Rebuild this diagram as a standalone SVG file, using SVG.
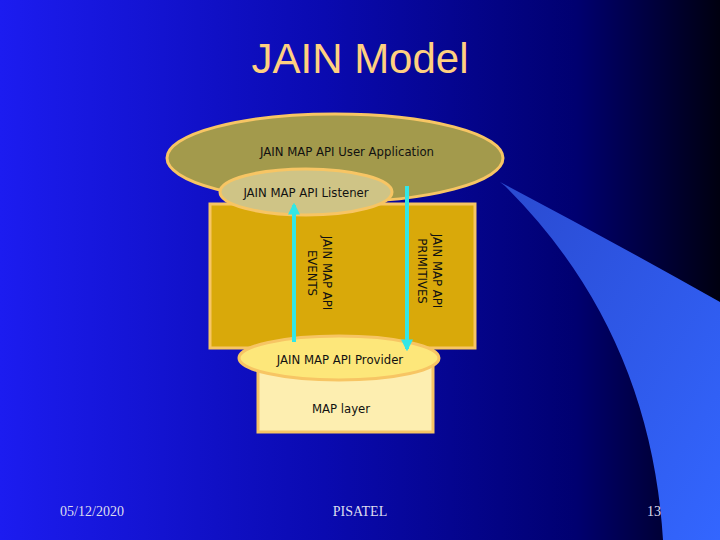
<svg xmlns="http://www.w3.org/2000/svg" width="720" height="540" viewBox="0 0 720 540">
<defs>
<linearGradient id="bg" x1="0" y1="0" x2="1" y2="0">
<stop offset="0" stop-color="#1c1cf0"/><stop offset="0.45" stop-color="#0a0ab0"/><stop offset="0.8" stop-color="#000070"/><stop offset="1" stop-color="#000010"/>
</linearGradient>
<linearGradient id="sw" x1="0" y1="0" x2="1" y2="1">
<stop offset="0" stop-color="#2a4ad0"/><stop offset="1" stop-color="#3366ff"/>
</linearGradient>
<marker id="ah" viewBox="0 0 10 10" refX="8" refY="5" markerWidth="3" markerHeight="3" orient="auto"><path d="M0,0L10,5L0,10z" fill="#33e6e6"/></marker>
<style>
.t{font-family:Tahoma,"DejaVu Sans Condensed","DejaVu Sans",sans-serif;font-size:13px;fill:#111}
.f{font-family:"Liberation Serif",serif;font-size:14px;fill:#dde}
.a{stroke:#33e6e6;stroke-width:4;fill:none;marker-end:url(#ah)}
.o{stroke:#f7c564;stroke-width:3}
</style>
</defs>
<rect width="720" height="540" fill="url(#bg)"/>
<path d="M500,182 Q610,240 720,302 L720,540 L663,540 Q650,330 505,186 Z" fill="url(#sw)"/>
<text x="360" y="73" text-anchor="middle" font-family="Liberation Sans,sans-serif" font-size="42" fill="#ffd080">JAIN Model</text>
<g id="userapp"><ellipse cx="335" cy="158" rx="168" ry="44" fill="#a39a4c" class="o"/><text class="t" x="347" y="156" text-anchor="middle">JAIN MAP API User Application</text></g>
<g id="body"><rect x="210" y="204" width="265" height="144" fill="#d9a90a" class="o"/></g>
<g id="listener"><ellipse cx="306" cy="192" rx="86" ry="23" fill="#cfc486" class="o"/><text class="t" x="306" y="197" text-anchor="middle">JAIN MAP API Listener</text></g>
<g id="maplayer"><rect x="258" y="362" width="175" height="70" fill="#fdeeb0" class="o"/><text class="t" x="341" y="413" text-anchor="middle">MAP layer</text></g>
<g id="provider"><ellipse cx="339" cy="358" rx="100" ry="22" fill="#fde77a" class="o"/><text class="t" x="340" y="364" text-anchor="middle">JAIN MAP API Provider</text></g>
<g id="connectors">
<line class="a" x1="294" y1="342" x2="294" y2="205"/>
<line class="a" x1="407" y1="186" x2="407" y2="349"/>
</g>
<g id="labels">
<text class="t" transform="translate(323,273) rotate(90)" text-anchor="middle">JAIN MAP API<tspan x="0" dy="15">EVENTS</tspan></text>
<text class="t" transform="translate(433,271) rotate(90)" text-anchor="middle">JAIN MAP API<tspan x="0" dy="15">PRIMITIVES</tspan></text>
</g>
<text class="f" x="92" y="516" text-anchor="middle">05/12/2020</text>
<text class="f" x="360" y="516" text-anchor="middle">PISATEL</text>
<text class="f" x="654" y="516" text-anchor="middle">13</text>
</svg>
